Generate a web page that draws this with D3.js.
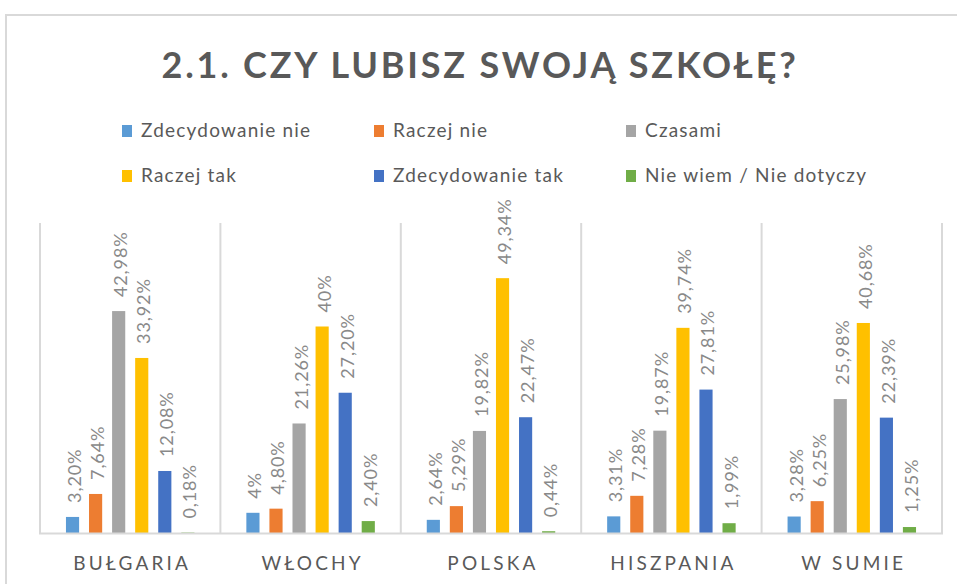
<!DOCTYPE html>
<html>
<head>
<meta charset="utf-8">
<script src="https://cdn.jsdelivr.net/npm/d3@7"></script>
<style>
  body { margin: 0; background: #fff; }
  svg { display: block; font-family: Lato, "Open Sans", sans-serif; }
</style>
</head>
<body>
<svg id="chart"></svg>
<script>
// data
const categories = ["BUŁGARIA", "WŁOCHY", "POLSKA", "HISZPANIA", "W SUMIE"];
const seriesNames = ["Zdecydowanie nie", "Raczej nie", "Czasami", "Raczej tak", "Zdecydowanie tak", "Nie wiem / Nie dotyczy"];
const zdecydowanieNie = [3.20, 4, 2.64, 3.31, 3.28];
const raczejNie = [7.64, 4.80, 5.29, 7.28, 6.25];
const czasami = [42.98, 21.26, 19.82, 19.87, 25.98];
const raczejTak = [33.92, 40, 49.34, 39.74, 40.68];
const zdecydowanieTak = [12.08, 27.20, 22.47, 27.81, 22.39];
const nieWiem = [0.18, 2.40, 0.44, 1.99, 1.25];
const colors = ["#5b9bd5", "#ed7d31", "#a5a5a5", "#ffc000", "#4472c4", "#70ad47"];

const seriesValues = [zdecydowanieNie, raczejNie, czasami, raczejTak, zdecydowanieTak, nieWiem];

const width = 957, height = 584;
const plot = { left: 40, right: 942, top: 223, bottom: 533.5 };

const svg = d3.select("#chart")
    .attr("width", width)
    .attr("height", height);

// outer chart border (cropped screenshot)
svg.append("path")
    .attr("d", `M6,${height} V15 H${width}`)
    .attr("fill", "none")
    .attr("stroke", "#d9d9d9")
    .attr("stroke-width", 2);

// title
svg.append("text")
    .attr("x", 480)
    .attr("y", 78)
    .attr("text-anchor", "middle")
    .attr("fill", "#595959")
    .attr("font-size", 36)
    .attr("font-weight", "bold")
    .attr("letter-spacing", 2.8)
    .text("2.1. CZY LUBISZ SWOJĄ SZKOŁĘ?");

// legend
const legend = svg.append("g");
seriesNames.forEach((name, i) => {
    const lx = 122 + (i % 3) * 252;
    const ly = 137 + Math.floor(i / 3) * 45;
    legend.append("rect")
        .attr("x", lx)
        .attr("y", ly - 12)
        .attr("width", 10)
        .attr("height", 12)
        .attr("fill", colors[i]);
    legend.append("text")
        .attr("x", lx + 19)
        .attr("y", ly)
        .attr("fill", "#595959")
        .attr("font-size", 19)
        .attr("letter-spacing", 1.2)
        .text(name);
});

// scales
const x0 = d3.scaleBand()
    .domain(categories)
    .range([plot.left, plot.right]);

const x1 = d3.scaleBand()
    .domain(d3.range(seriesNames.length))
    .range([21, x0.bandwidth() - 21])
    .paddingInner(0.43)
    .paddingOuter(0.215);

const y = d3.scaleLinear()
    .domain([0, 60])
    .range([plot.bottom, plot.top]);

// vertical separators
const bounds = categories.map(c => x0(c)).concat([plot.right]);
svg.selectAll(".sep")
    .data(bounds)
    .enter()
    .append("line")
    .attr("x1", d => d)
    .attr("x2", d => d)
    .attr("y1", plot.top)
    .attr("y2", plot.bottom)
    .attr("stroke", "#d9d9d9")
    .attr("stroke-width", 2);

// bars
const fmt = v => (Number.isInteger(v) ? String(v) : v.toFixed(2).replace(".", ",")) + "%";

seriesValues.forEach((vals, s) => {
    const g = svg.append("g");
    g.selectAll("rect")
        .data(vals)
        .enter()
        .append("rect")
        .attr("x", (d, i) => x0(categories[i]) + x1(s))
        .attr("width", x1.bandwidth())
        .attr("y", d => y(d))
        .attr("height", d => plot.bottom - y(d))
        .attr("fill", colors[s]);

    g.selectAll("text")
        .data(vals)
        .enter()
        .append("text")
        .attr("transform", (d, i) => `translate(${x0(categories[i]) + x1(s) + x1.bandwidth() / 2 + 2},${y(d) - 14}) rotate(-90)`)
        .attr("dy", "0.36em")
        .attr("fill", "#898989")
        .attr("font-size", 18)
        .attr("letter-spacing", 0.9)
        .text(d => fmt(d));
});

// x axis line
svg.append("line")
    .attr("x1", plot.left - 1)
    .attr("x2", plot.right + 1)
    .attr("y1", plot.bottom)
    .attr("y2", plot.bottom)
    .attr("stroke", "#d9d9d9")
    .attr("stroke-width", 2);

// category labels
svg.selectAll(".cat")
    .data(categories)
    .enter()
    .append("text")
    .attr("x", d => x0(d) + x0.bandwidth() / 2 + 2)
    .attr("y", 570)
    .attr("text-anchor", "middle")
    .attr("fill", "#595959")
    .attr("font-size", 19)
    .attr("letter-spacing", 3.2)
    .text(d => d);
</script>
</body>
</html>
